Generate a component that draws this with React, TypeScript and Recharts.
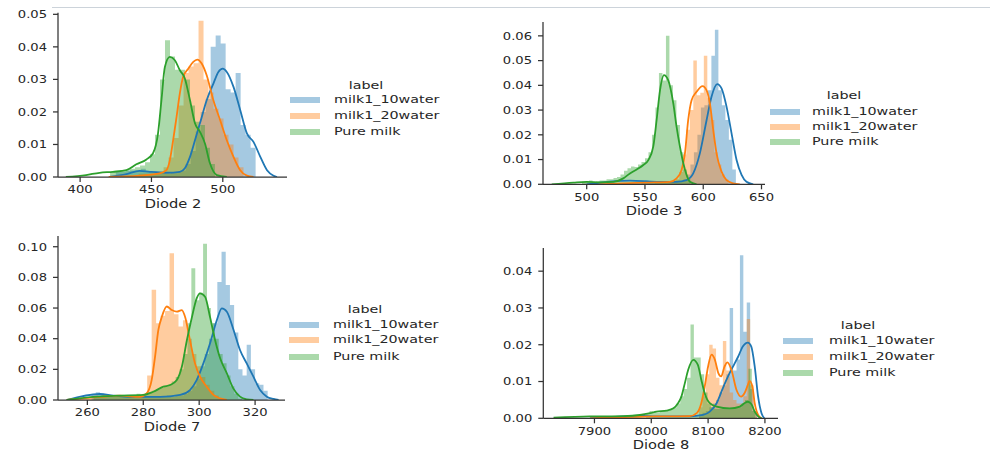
import React from "react";
import { Area, ComposedChart, Line, XAxis, YAxis } from "recharts";

// series names and colours (matplotlib tab10)
const SERIES = ["milk1_10water", "milk1_20water", "Pure milk"];
const COLORS = ["#1f77b4", "#ff7f0e", "#2ca02c"];

// ---------- Diode 2 ----------
const D2_X_TICKS = [400, 450, 500];
const D2_Y_TICKS = [0, 0.01, 0.02, 0.03, 0.04, 0.05];
const D2_HIST_10 = [
  0.0015, 0.0015, 0.002, 0.002, 0.002, 0.0025, 0.0015, 0.0015, 0.001, 0.0015, 0.001, 0.0015, 0.0015,
  0.002, 0.004, 0.008, 0.014, 0.02, 0.024, 0.04, 0.0435, 0.041, 0.027, 0.026, 0.032, 0.016, 0.013, 0.009,
];
const D2_HIST_20 = [
  0.001, 0.001, 0.001, 0.001, 0.0015, 0.003, 0.006, 0.012, 0.022, 0.032, 0.034, 0.035, 0.048, 0.03,
  0.026, 0.021, 0.018, 0.013, 0.01, 0.006, 0.003,
];
const D2_HIST_PURE = [
  0.0015, 0.0015, 0.002, 0.002, 0.0025, 0.003, 0.0035, 0.0045, 0.007, 0.013, 0.03, 0.042, 0.037, 0.033,
  0.033, 0.03, 0.022, 0.017, 0.016, 0.009, 0.004,
];
const D2_KDE_10 = [
  [420.6, 0], [432.4, 0.0009], [441.7, 0.0019], [448.8, 0.0016], [460.5, 0.0013], [469.9, 0.0016],
  [473.4, 0.0027], [477, 0.0062], [480.5, 0.0113], [484, 0.0165], [488.7, 0.0236], [493.4, 0.0287],
  [496.9, 0.0323], [500, 0.0333], [502.8, 0.0323], [507.5, 0.0277], [512.2, 0.0206], [516.9, 0.0134],
  [521.5, 0.0108], [526.3, 0.0062], [531, 0.0021], [535.6, 0.0004], [538, 0],
];
const D2_KDE_20 = [
  [420, 0], [441.7, 0.0004], [455.8, 0.0011], [460.5, 0.0021], [462.9, 0.0052], [465.2, 0.0113],
  [467.6, 0.0185], [469.9, 0.0257], [472.2, 0.0308], [475.8, 0.0333], [479.3, 0.0354], [482.1, 0.0361],
  [485.2, 0.0349], [488.7, 0.0313], [493.4, 0.0236], [498.1, 0.0175], [502.8, 0.0113], [507.5, 0.0062],
  [512.2, 0.0021], [516.9, 0.0004], [521.5, 0],
];
const D2_KDE_PURE = [
  [390, 0], [404.2, 0.0006], [413.6, 0.0013], [423, 0.0016], [432.4, 0.0021], [439.4, 0.0039],
  [446.5, 0.0054], [451.1, 0.0073], [454.6, 0.0134], [457, 0.0236], [459.4, 0.0338], [462.9, 0.0369],
  [466.4, 0.0359], [469.9, 0.0328], [473.4, 0.0303], [477, 0.0236], [480.5, 0.0165], [484, 0.0139],
  [487.5, 0.0103], [491, 0.0042], [495.8, 0.0006], [502.8, 0],
];

// ---------- Diode 3 ----------
const D3_X_TICKS = [500, 550, 600, 650];
const D3_Y_TICKS = [0, 0.01, 0.02, 0.03, 0.04, 0.05, 0.06];
const D3_HIST_10 = [
  0.0012, 0.0015, 0.0012, 0.001, 0.001, 0.0008, 0.001, 0.001, 0.0012, 0.0015, 0.0015, 0.0012,
  0.002, 0.004, 0.008, 0.013, 0.02, 0.031, 0.032, 0.038, 0.052, 0.0625, 0.038, 0.032, 0.026, 0.018, 0.006,
];
const D3_HIST_20 = [
  0.001, 0.0008, 0.001, 0.0008, 0.001, 0.001,
  0.002, 0.005, 0.012, 0.022, 0.03, 0.05, 0.036, 0.037, 0.052, 0.035, 0.026, 0.013, 0.008, 0.004, 0.002,
];
const D3_HIST_PURE = [
  0.001, 0.001, 0.0015, 0.001, 0.0012, 0.0015, 0.0015, 0.002, 0.002, 0.0025, 0.003, 0.004, 0.0055,
  0.0065, 0.0072, 0.007, 0.008, 0.009, 0.0105, 0.013, 0.02, 0.031, 0.045, 0.042, 0.06, 0.04, 0.034,
  0.024, 0.013, 0.006, 0.002,
];
const D3_KDE_10 = [
  [500, 0], [520, 0.0011], [537.1, 0.0015], [560, 0.001], [577.1, 0.001], [585.7, 0.0017],
  [591.4, 0.0044], [597.1, 0.0125], [602.9, 0.026], [607.1, 0.0354], [612, 0.0405], [615.7, 0.0388],
  [620, 0.0314], [624.3, 0.0206], [628.6, 0.0098], [632.9, 0.0038], [637.1, 0.001], [642.9, 0],
];
const D3_KDE_20 = [
  [511, 0], [531, 0.0004], [554.3, 0.0007], [571.4, 0.001], [577.1, 0.0024], [581.4, 0.0058],
  [584.3, 0.0125], [587.1, 0.026], [590, 0.034], [594.3, 0.0374], [599.4, 0.0397], [602.9, 0.038],
  [605.7, 0.0327], [608.6, 0.0219], [611.4, 0.0125], [615.7, 0.0051], [620, 0.0017], [625.7, 0.0004],
  [631.4, 0],
];
const D3_KDE_PURE = [
  [470, 0], [488.6, 0.0007], [500, 0.001], [511.4, 0.0008], [522.9, 0.001], [531.4, 0.0024],
  [537.1, 0.0044], [542.9, 0.006], [548.6, 0.0078], [552.9, 0.0098], [557.1, 0.0152], [560, 0.026],
  [562.9, 0.038], [566.3, 0.0441], [570, 0.042], [574.3, 0.0327], [577.1, 0.0233], [580, 0.0152],
  [582.9, 0.0085], [585.7, 0.0038], [588.6, 0.001], [594.3, 0],
];

// ---------- Diode 7 ----------
const D7_X_TICKS = [260, 280, 300, 320];
const D7_Y_TICKS = [0, 0.02, 0.04, 0.06, 0.08, 0.1];
const D7_HIST_10 = [
  0.004, 0.005, 0.004, 0.003, 0.003, 0.002, 0.002, 0.003, 0.002, 0.002, 0.002, 0.003, 0.002, 0.002,
  0.002, 0.002, 0.002, 0.002, 0.003, 0.002, 0.003, 0.003,
  0.004, 0.006, 0.009, 0.014, 0.022, 0.03, 0.04, 0.05, 0.077, 0.0967, 0.075, 0.062, 0.044, 0.02, 0.016,
  0.036, 0.02, 0.011, 0.01, 0.006,
];
const D7_HIST_20 = [
  0.001, 0.002, 0.002, 0.003, 0.002, 0.003, 0.003, 0.002, 0.003, 0.002, 0.002, 0.003, 0.002, 0.003, 0.004,
  0.016, 0.072, 0.05, 0.055, 0.058, 0.0957, 0.056, 0.048, 0.052, 0.04, 0.03, 0.022, 0.015, 0.01, 0.006,
  0.003, 0.001,
];
const D7_HIST_PURE = [
  0.002, 0.002, 0.003, 0.002, 0.003, 0.002, 0.003, 0.003, 0.002, 0.003, 0.003, 0.004, 0.003, 0.004, 0.005,
  0.006, 0.007, 0.008, 0.009, 0.01, 0.012, 0.015, 0.02, 0.03, 0.05, 0.086, 0.065, 0.07, 0.102, 0.06,
  0.05, 0.04, 0.03, 0.024, 0.016, 0.009, 0.004, 0.001,
];
const D7_KDE_10 = [
  [252.6, 0], [264.5, 0.0039], [269.3, 0.0028], [276.4, 0.002], [286, 0.002], [293.2, 0.0033],
  [296.7, 0.0065], [299.1, 0.013], [301.5, 0.0239], [303.9, 0.037], [306.3, 0.052], [308.1, 0.0598],
  [309.9, 0.0576], [312.3, 0.0457], [314.6, 0.0326], [317, 0.0239], [319.4, 0.0152], [321.8, 0.0065],
  [324.2, 0.0022], [326.6, 0.0007], [328.4, 0],
];
const D7_KDE_20 = [
  [252.6, 0], [264.5, 0.002], [271.7, 0.0028], [278.9, 0.002], [281.2, 0.0043], [283, 0.013],
  [284.2, 0.028], [285.4, 0.0457], [286.6, 0.054], [288.4, 0.061], [290.2, 0.0587], [292, 0.0576],
  [293.8, 0.0587], [295, 0.054], [296.7, 0.039], [298.5, 0.0239], [300.3, 0.0152], [302.7, 0.0087],
  [305.1, 0.0033], [307.5, 0.001], [309.9, 0],
];
const D7_KDE_PURE = [
  [252.6, 0], [262.1, 0.002], [270.5, 0.0028], [280, 0.0033], [283.6, 0.0054], [287.2, 0.0087],
  [289.6, 0.0098], [292, 0.013], [293.8, 0.0217], [295.6, 0.039], [297.4, 0.054], [299.1, 0.0663],
  [300.3, 0.0696], [302.1, 0.0674], [303.9, 0.054], [305.7, 0.039], [307.5, 0.0272], [309.9, 0.0174],
  [312.2, 0.0076], [314.6, 0.0022], [317, 0.0004], [319.4, 0],
];

// ---------- Diode 8 ----------
const D8_X_TICKS = [7900, 8000, 8100, 8200];
const D8_Y_TICKS = [0, 0.01, 0.02, 0.03, 0.04];
const D8_HIST_10 = [
  0.001, 0.0015, 0.002, 0.003, 0.004, 0.005, 0.007, 0.009, 0.012, 0.03, 0.013, 0.016, 0.0443, 0.0235,
  0.0315, 0.008, 0.002,
];
const D8_HIST_20 = [
  0.003, 0.006, 0.012, 0.02, 0.019, 0.011, 0.009, 0.021, 0.013, 0.007, 0.005, 0.004, 0.004, 0.006,
  0.027, 0.009, 0.002,
];
const D8_HIST_PURE = [
  0.0012, 0.002, 0.0018, 0.0015, 0.002, 0.002, 0.0022, 0.0025,
  0.003, 0.004, 0.006, 0.008, 0.011, 0.0255, 0.0165, 0.0165, 0.012, 0.007, 0.004, 0.003, 0.0025,
  0.0025, 0.0025, 0.0025, 0.0025, 0.0025, 0.003, 0.003, 0.004, 0.005, 0.0135, 0.002,
];
const D8_KDE_10 = [
  [7892, 0], [7951, 0.0005], [7980, 0.0007], [8009, 0.0005], [8068, 0.0005], [8091, 0.0009],
  [8103, 0.0018], [8115, 0.0041], [8126, 0.0082], [8135, 0.0114], [8144, 0.0141], [8153, 0.0168],
  [8161, 0.0195], [8170, 0.0206], [8176, 0.0195], [8182, 0.0141], [8188, 0.0059], [8194, 0.0014],
  [8199, 0],
];
const D8_KDE_20 = [
  [7892, 0], [8009, 0.0005], [8068, 0.0006], [8080, 0.0014], [8088, 0.0041], [8094, 0.0086],
  [8100, 0.0141], [8106, 0.0173], [8112, 0.0159], [8118, 0.0123], [8123, 0.0114], [8129, 0.0141],
  [8134, 0.0152], [8141, 0.0132], [8150, 0.0077], [8158, 0.0059], [8164, 0.0068], [8170, 0.0091],
  [8173, 0.0102], [8178, 0.0086], [8182, 0.0041], [8188, 0.0009], [8194, 0],
];
const D8_KDE_PURE = [
  [7828, 0.0002], [7892, 0.0005], [7951, 0.0006], [7980, 0.0009], [7998, 0.0014], [8009, 0.0018],
  [8027, 0.0021], [8039, 0.0027], [8047, 0.0041], [8053, 0.0059], [8059, 0.0095], [8065, 0.0132],
  [8074, 0.0159], [8082, 0.0145], [8088, 0.0105], [8094, 0.0068], [8103, 0.0041], [8115, 0.0032],
  [8138, 0.0027], [8156, 0.0032], [8164, 0.0041], [8170, 0.0045], [8176, 0.0039], [8182, 0.0018],
  [8188, 0.0005], [8194, 0],
];

const TEXT = "#262626";
const AXIS = "#333333";
const FONT = "'DejaVu Sans', sans-serif";
const TICK_SX = 1.25;
const LABEL_SX = 1.22;
const LEG_SX = 1.3;

// histogram as step outline: one point per bin left edge, closing point at the right edge
const hist = (start: number, width: number, heights: number[]) => {
  const pts = heights.map((h, i) => ({ x: start + i * width, y: h }));
  pts.push({ x: start + heights.length * width, y: 0 });
  return pts;
};
const kde = (pairs: number[][]) => pairs.map(([x, y]) => ({ x, y }));

const panels = [
  {
    name: "Diode 2",
    box: { left: 0, top: 0, width: 300, height: 225 },
    plot: { x0: 58, x1: 287, y0: 12.7, y1: 177 },
    xDomain: [384.5, 545],
    yTop: 0.0505,
    xTicks: D2_X_TICKS,
    yTicks: D2_Y_TICKS,
    hists: [hist(425, 3.5, D2_HIST_10), hist(441, 3.5, D2_HIST_20), hist(421, 3.5, D2_HIST_PURE)],
    kdes: [kde(D2_KDE_10), kde(D2_KDE_20), kde(D2_KDE_PURE)],
    legend: { titleX: 366, titleY: 86, patchX: 290, textX: 334, rows: [100, 116, 132] },
  },
  {
    name: "Diode 3",
    box: { left: 485, top: 10, width: 300, height: 220 },
    plot: { x0: 543, x1: 765, y0: 22, y1: 184.3 },
    xDomain: [462.5, 653],
    yTop: 0.0656,
    xTicks: D3_X_TICKS,
    yTicks: D3_Y_TICKS,
    hists: [hist(547, 3, D3_HIST_10), hist(558.5, 3, D3_HIST_20), hist(496, 3, D3_HIST_PURE)],
    kdes: [kde(D3_KDE_10), kde(D3_KDE_20), kde(D3_KDE_PURE)],
    legend: { titleX: 844, titleY: 96, patchX: 770, textX: 812, rows: [111.7, 126.7, 141.5] },
  },
  {
    name: "Diode 7",
    box: { left: 0, top: 226, width: 300, height: 225 },
    plot: { x0: 58, x1: 285, y0: 236, y1: 400 },
    xDomain: [249.5, 330.7],
    yTop: 0.107,
    xTicks: D7_X_TICKS,
    yTicks: D7_Y_TICKS,
    hists: [hist(261.5, 1.5, D7_HIST_10), hist(257.4, 1.6, D7_HIST_20), hist(262.2, 1.4, D7_HIST_PURE)],
    kdes: [kde(D7_KDE_10), kde(D7_KDE_20), kde(D7_KDE_PURE)],
    legend: { titleX: 365, titleY: 310, patchX: 289, textX: 333, rows: [324.5, 340.3, 356.7] },
  },
  {
    name: "Diode 8",
    box: { left: 485, top: 235, width: 300, height: 216 },
    plot: { x0: 543.3, x1: 778, y0: 248, y1: 418.3 },
    xDomain: [7810, 8223],
    yTop: 0.0463,
    xTicks: D8_X_TICKS,
    yTicks: D8_Y_TICKS,
    hists: [hist(8084, 6, D8_HIST_10), hist(8084, 6, D8_HIST_20), hist(7991, 6, D8_HIST_PURE)],
    kdes: [kde(D8_KDE_10), kde(D8_KDE_20), kde(D8_KDE_PURE)],
    legend: { titleX: 858, titleY: 325.5, patchX: 783, textX: 828.5, rows: [341, 356.7, 372.7] },
  },
];

const XTick = (props: any) => {
  const { x, y, payload } = props;
  return (
    <g transform={`translate(${x},${y})`}>
      <text transform={`scale(${TICK_SX},1)`} textAnchor="middle" dy="0.71em" fontSize={10.5} fill={TEXT} fontFamily={FONT}>
        {String(payload.value)}
      </text>
    </g>
  );
};

const YTick = (props: any) => {
  const { x, y, payload } = props;
  return (
    <g transform={`translate(${x},${y})`}>
      <text transform={`scale(${TICK_SX},1)`} textAnchor="end" dy="0.36em" fontSize={10.5} fill={TEXT} fontFamily={FONT}>
        {Number(payload.value).toFixed(2)}
      </text>
    </g>
  );
};

const txt: React.CSSProperties = {
  position: "absolute",
  fontFamily: FONT,
  color: TEXT,
  whiteSpace: "nowrap",
  lineHeight: "14px",
};

const Panel = ({ p }: { p: (typeof panels)[number] }) => {
  const YW = 50;
  const XH = 30;
  const { box, plot } = p;
  const margin = {
    left: plot.x0 - box.left - YW,
    right: box.left + box.width - plot.x1,
    top: plot.y0 - box.top,
    bottom: box.top + box.height - plot.y1 - XH,
  };
  const axisStyle = { stroke: AXIS, strokeWidth: 1.25 };
  const lg = p.legend;
  return (
    <>
      <div style={{ position: "absolute", left: box.left, top: box.top }}>
        <ComposedChart width={box.width} height={box.height} margin={margin}>
          <XAxis
            type="number"
            dataKey="x"
            domain={p.xDomain}
            ticks={p.xTicks}
            allowDataOverflow
            interval={0}
            height={XH}
            tickSize={5}
            tickMargin={4}
            axisLine={axisStyle}
            tickLine={axisStyle}
            tick={(t: any) => <XTick {...t} />}
          />
          <YAxis
            type="number"
            domain={[0, p.yTop]}
            ticks={p.yTicks}
            allowDataOverflow
            interval={0}
            width={YW}
            tickSize={5}
            tickMargin={6}
            axisLine={axisStyle}
            tickLine={axisStyle}
            tick={(t: any) => <YTick {...t} />}
          />
          {SERIES.map((s, i) => [
            <Area
              key={`h-${s}`}
              data={p.hists[i]}
              dataKey="y"
              type="stepAfter"
              stroke="none"
              fill={COLORS[i]}
              fillOpacity={0.4}
              isAnimationActive={false}
            />,
            <Line
              key={`k-${s}`}
              data={p.kdes[i]}
              dataKey="y"
              type="monotone"
              stroke={COLORS[i]}
              strokeWidth={1.8}
              dot={false}
              activeDot={false}
              isAnimationActive={false}
            />,
          ])}
        </ComposedChart>
      </div>
      <div
        style={{
          ...txt,
          fontSize: 12,
          left: (plot.x0 + plot.x1) / 2,
          top: plot.y1 + 31 - 11.2,
          transform: `translateX(-50%) scaleX(${LABEL_SX})`,
        }}
      >
        {p.name}
      </div>
      <div style={{ ...txt, fontSize: 11, left: lg.titleX, top: lg.titleY - 7, transform: `translateX(-50%) scaleX(${LEG_SX})` }}>
        label
      </div>
      {SERIES.map((s, i) => (
        <React.Fragment key={s}>
          <div
            style={{
              position: "absolute",
              left: lg.patchX,
              top: lg.rows[i] - 3,
              width: 30,
              height: 6,
              background: COLORS[i],
              opacity: 0.4,
            }}
          />
          <div
            style={{
              ...txt,
              fontSize: 11,
              left: lg.textX,
              top: lg.rows[i] - 7,
              transformOrigin: "left center",
              transform: `scaleX(${LEG_SX})`,
            }}
          >
            {s}
          </div>
        </React.Fragment>
      ))}
    </>
  );
};

export default function App() {
  return (
    <div style={{ position: "absolute", left: 0, top: 0, width: 990, height: 453, overflow: "hidden", background: "#fff" }}>
      <div style={{ position: "absolute", left: 52, top: 7, width: 938, height: 1, background: "#ccd3da" }} />
      {panels.map((p) => (
        <Panel key={p.name} p={p} />
      ))}
    </div>
  );
}
